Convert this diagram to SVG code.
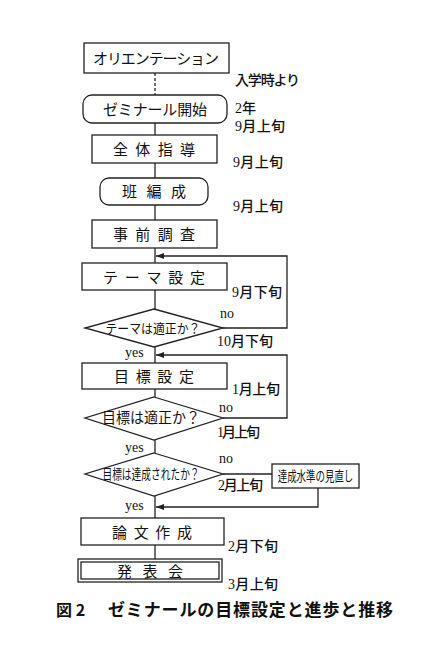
<svg xmlns="http://www.w3.org/2000/svg" width="446" height="659" viewBox="0 0 446 659">
<defs>
<style>
.box{fill:#fff;stroke:#222;stroke-width:1.3}
.ln{fill:none;stroke:#222;stroke-width:1.3}
.bt{font-family:"Liberation Serif","Noto Sans CJK JP",serif;font-size:15px;fill:#111;text-anchor:middle}
.lb{font-family:"Liberation Serif","Noto Sans CJK JP",serif;font-size:14px;fill:#111;font-weight:500}
.yn{font-family:"Liberation Serif",serif;font-size:14px;fill:#111}
.cap{font-family:"Noto Sans CJK JP",sans-serif;font-size:16px;font-weight:bold;fill:#111}
</style>
<marker id="ah" viewBox="0 0 8 6" refX="8" refY="3" markerWidth="8" markerHeight="6" markerUnits="userSpaceOnUse" orient="auto">
<path d="M0,0 L8,3 L0,6 Z" fill="#222"/>
</marker>
</defs>
<rect width="446" height="659" fill="#fff"/>
<g id="connectors">
<line class="ln" x1="155" y1="73" x2="155" y2="95" stroke-dasharray="3,2"/>
<line class="ln" x1="155" y1="123" x2="155" y2="135"/>
<line class="ln" x1="155" y1="163" x2="155" y2="178"/>
<line class="ln" x1="155" y1="205" x2="155" y2="220"/>
<line class="ln" x1="155" y1="248" x2="155" y2="263"/>
<line class="ln" x1="155" y1="290" x2="155" y2="309"/>
<line class="ln" x1="155" y1="347" x2="155" y2="363"/>
<line class="ln" x1="155" y1="389" x2="155" y2="397"/>
<line class="ln" x1="155" y1="440" x2="155" y2="453"/>
<line class="ln" x1="155" y1="496" x2="155" y2="518"/>
<line class="ln" x1="155" y1="545" x2="155" y2="559"/>
<polyline class="ln" points="223,328 287,328 287,256 156,256" marker-end="url(#ah)"/>
<polyline class="ln" points="223,418 287,418 287,355 156,355" marker-end="url(#ah)"/>
<line class="ln" x1="223" y1="474" x2="272" y2="474"/>
<polyline class="ln" points="318,488 318,507 156,507" marker-end="url(#ah)"/>
</g>
<g id="n-orientation"><rect class="box" x="84" y="43" width="145" height="30"/><text class="bt" x="156" y="64" textLength="126">オリエンテーション</text></g>
<g id="n-zemi"><rect class="box" x="83" y="95" width="144" height="28" rx="9"/><text class="bt" x="155" y="115" textLength="104">ゼミナール開始</text></g>
<g id="n-zentai"><rect class="box" x="92" y="135" width="125" height="28"/><text class="bt" x="154" y="155" textLength="82">全体指導</text></g>
<g id="n-han"><rect class="box" x="100" y="178" width="108" height="27" rx="9"/><text class="bt" x="154" y="197" textLength="64">班編成</text></g>
<g id="n-jizen"><rect class="box" x="92" y="220" width="125" height="28"/><text class="bt" x="154" y="240" textLength="82">事前調査</text></g>
<g id="n-theme"><rect class="box" x="82" y="263" width="145" height="27"/><text class="bt" x="154" y="283" textLength="102">テーマ設定</text></g>
<g id="n-d1"><polygon class="box" points="154,309 223,328 154,347 85,328"/><text class="bt" x="153" y="333" style="font-size:13px" textLength="95" lengthAdjust="spacingAndGlyphs">テーマは適正か？</text></g>
<g id="n-d2"><polygon class="box" points="154,397 223,418 154,440 85,418"/><text class="bt" x="151" y="423" style="font-size:14.5px" textLength="98" lengthAdjust="spacingAndGlyphs">目標は適正か？</text></g>
<g id="n-mokuhyo"><rect class="box" x="82" y="363" width="145" height="26"/><text class="bt" x="154" y="382" textLength="80">目標設定</text></g>
<g id="n-d3"><polygon class="box" points="154,453 223,474 154,496 85,474"/><text class="bt" style="font-size:13.5px" transform="translate(151,479) scale(0.72,1)">目標は達成されたか？</text></g>
<g id="n-minaoshi"><rect class="box" x="272" y="464" width="87" height="24"/><text class="bt" style="font-size:13.5px" transform="translate(315.5,481) scale(0.7,1)">達成水準の見直し</text></g>
<g id="n-ronbun"><rect class="box" x="81" y="518" width="143" height="27"/><text class="bt" x="152" y="538" textLength="80">論文作成</text></g>
<g id="n-happyo"><rect class="box" x="78" y="559" width="144" height="23"/><rect class="box" x="81" y="562" width="138" height="17"/><text class="bt" x="150" y="577" textLength="66">発表会</text></g>
<g id="labels">
<text class="lb" x="235" y="85" textLength="65">入学時より</text>
<text class="lb" x="235" y="113">2年</text>
<text class="lb" x="235" y="131" textLength="50">9月上旬</text>
<text class="lb" x="233" y="167" textLength="50">9月上旬</text>
<text class="lb" x="233" y="211" textLength="50">9月上旬</text>
<text class="lb" x="232" y="297" textLength="50">9月下旬</text>
<text class="yn" x="220" y="318">no</text>
<text class="lb" x="217" y="346" textLength="56">10月下旬</text>
<text class="yn" x="125" y="357">yes</text>
<text class="lb" x="232" y="394" textLength="48">1月上旬</text>
<text class="yn" x="219" y="412">no</text>
<text class="lb" x="217" y="437" textLength="43">1月上旬</text>
<text class="yn" x="125" y="452">yes</text>
<text class="yn" x="219" y="463">no</text>
<text class="lb" x="218" y="490" textLength="45">2月上旬</text>
<text class="yn" x="125" y="510">yes</text>
<text class="lb" x="228" y="551" textLength="50">2月下旬</text>
<text class="lb" x="228" y="589" textLength="50">3月上旬</text>
</g>
<g id="caption">
<text class="cap" x="56" y="616">図 2</text>
<text class="cap" x="108" y="616" style="font-size:17px" textLength="285">ゼミナールの目標設定と進歩と推移</text>
</g>
</svg>
